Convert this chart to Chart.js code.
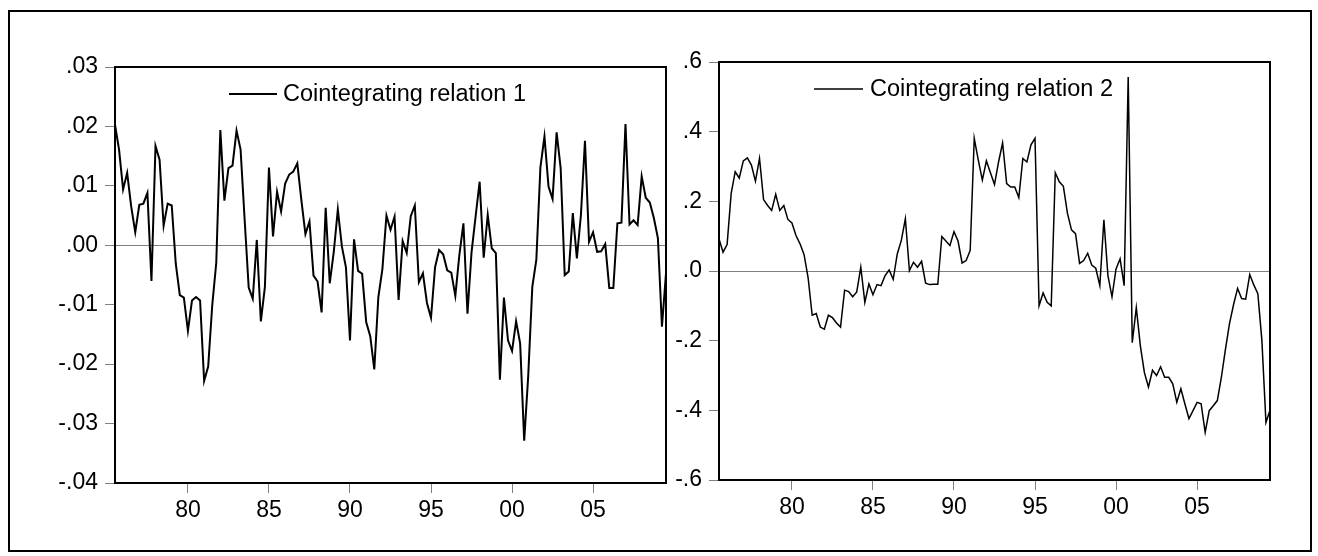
<!DOCTYPE html>
<html>
<head>
<meta charset="utf-8">
<title>Cointegrating relations</title>
<script src="https://cdn.jsdelivr.net/npm/chart.js@4.4.1/dist/chart.umd.min.js"></script>
<style>
    html, body { margin: 0; padding: 0; background: #fff; }
    body { width: 1318px; height: 556px; position: relative; overflow: hidden; }
    .frame { position: absolute; left: 8px; top: 10px; width: 1304px; height: 542px; border: 2px solid #000; box-sizing: border-box; }
    canvas { position: absolute; top: 0; }
    #chart1 { left: 0; }
    #chart2 { left: 660px; }
</style>
</head>
<body>
<div class="frame"></div>
<canvas id="chart1" width="680" height="556"></canvas>
<canvas id="chart2" width="658" height="556"></canvas>
<script>
// Quarterly sample, first observation 1975Q3
const startYear = 1975.5;

// Cointegrating relation 1 (quarterly, 1975Q3 - 2009Q3)
const rel1 = [
    0.0203, 0.0161, 0.0094, 0.0122, 0.0065, 0.0022, 0.0068, 0.0070, 0.0088, -0.0060,
    0.0167, 0.0144, 0.0033, 0.0070, 0.0067, -0.0031, -0.0084, -0.0088, -0.0144, -0.0093,
    -0.0087, -0.0093, -0.0228, -0.0204, -0.0101, -0.0029, 0.0194, 0.0075, 0.0130, 0.0134,
    0.0193, 0.0161, 0.0043, -0.0071, -0.0090, 0.0009, -0.0128, -0.0070, 0.0131, 0.0015,
    0.0090, 0.0057, 0.0104, 0.0119, 0.0124, 0.0138, 0.0076, 0.0019, 0.0040, -0.0051,
    -0.0061, -0.0113, 0.0063, -0.0064, -0.0011, 0.0060, -0.0002, -0.0037, -0.0160, 0.0010,
    -0.0043, -0.0048, -0.0129, -0.0153, -0.0209, -0.0087, -0.0040, 0.0050, 0.0026, 0.0048,
    -0.0092, 0.0007, -0.0013, 0.0049, 0.0067, -0.0062, -0.0047, -0.0097, -0.0122, -0.0037,
    -0.0008, -0.0015, -0.0042, -0.0046, -0.0085, -0.0016, 0.0037, -0.0115, -0.0012, 0.0048,
    0.0107, -0.0021, 0.0051, -0.0005, -0.0013, -0.0226, -0.0088, -0.0160, -0.0178, -0.0128,
    -0.0165, -0.0329, -0.0219, -0.0070, -0.0024, 0.0131, 0.0183, 0.0099, 0.0078, 0.0190,
    0.0130, -0.0050, -0.0044, 0.0054, -0.0022, 0.0051, 0.0176, 0.0006, 0.0022, -0.0011,
    -0.0010, 0.0002, -0.0072, -0.0072, 0.0037, 0.0038, 0.0204, 0.0035, 0.0042, 0.0034,
    0.0116, 0.0080, 0.0072, 0.0046, 0.0012, -0.0137, -0.0047
];

// Cointegrating relation 2 (same sample)
const rel2 = [
    0.092, 0.054, 0.076, 0.222, 0.285, 0.267, 0.316, 0.325, 0.304, 0.258,
    0.323, 0.205, 0.188, 0.174, 0.220, 0.174, 0.188, 0.148, 0.138, 0.102,
    0.078, 0.047, -0.020, -0.127, -0.122, -0.161, -0.167, -0.127, -0.134, -0.149,
    -0.161, -0.055, -0.059, -0.074, -0.060, 0.011, -0.090, -0.037, -0.068, -0.039,
    -0.042, -0.013, 0.003, -0.024, 0.049, 0.088, 0.150, 0.001, 0.025, 0.011,
    0.028, -0.035, -0.039, -0.038, -0.038, 0.099, 0.086, 0.073, 0.113, 0.086,
    0.023, 0.030, 0.059, 0.381, 0.318, 0.261, 0.316, 0.282, 0.248, 0.313,
    0.368, 0.251, 0.241, 0.241, 0.211, 0.323, 0.313, 0.362, 0.381, -0.100,
    -0.063, -0.090, -0.100, 0.282, 0.256, 0.243, 0.166, 0.118, 0.107, 0.022,
    0.030, 0.051, 0.017, 0.008, -0.042, 0.147, -0.013, -0.074, 0.006, 0.035,
    -0.042, 0.557, -0.206, -0.105, -0.215, -0.292, -0.333, -0.285, -0.300, -0.275,
    -0.305, -0.305, -0.324, -0.377, -0.338, -0.382, -0.424, -0.401, -0.377, -0.381,
    -0.463, -0.401, -0.387, -0.372, -0.305, -0.225, -0.151, -0.097, -0.050, -0.079,
    -0.081, -0.010, -0.040, -0.065, -0.200, -0.435, -0.400
];

// Axis ticks
const xTickYears = [1980, 1985, 1990, 1995, 2000, 2005];
const xTickLabels = ['80', '85', '90', '95', '00', '05'];
const y1Ticks = [-0.04, -0.03, -0.02, -0.01, 0, 0.01, 0.02, 0.03];
const y1TickLabels = ['-.04', '-.03', '-.02', '-.01', '.00', '.01', '.02', '.03'];
const y2Ticks = [-0.6, -0.4, -0.2, 0, 0.2, 0.4, 0.6];
const y2TickLabels = ['-.6', '-.4', '-.2', '.0', '.2', '.4', '.6'];

const FONT = "'Liberation Sans', Arial, sans-serif";
Chart.defaults.font.family = FONT;
Chart.defaults.font.size = 23;
Chart.defaults.color = '#000';

const toPoints = (values) => values.map((v, i) => ({ x: startYear + i * 0.25, y: v }));

// Box round the plot area + legend inside it (EViews style)
const framePlugin = {
    id: 'evFrame',
    afterDraw(chart, args, opts) {
        const { ctx, chartArea: a } = chart;
        ctx.save();
        ctx.strokeStyle = '#000';
        ctx.lineWidth = 2;
        ctx.strokeRect(a.left, a.top, a.right - a.left, a.bottom - a.top);

        const ds = chart.data.datasets[0];
        const y = a.top + opts.dy;
        ctx.lineWidth = ds.borderWidth;
        ctx.beginPath();
        ctx.moveTo(a.left + opts.lineFrom, y);
        ctx.lineTo(a.left + opts.lineTo, y);
        ctx.stroke();

        ctx.fillStyle = '#000';
        ctx.font = `23.5px ${FONT}`;
        ctx.textBaseline = 'middle';
        ctx.textAlign = 'left';
        ctx.fillText(ds.label, a.left + opts.textX, y + 1);
        ctx.restore();
    }
};

const makeChart = (canvasId, label, values, lineWidth, yTicks, yLabels, box) => {
    const [min, max] = [yTicks[0], yTicks[yTicks.length - 1]];
    return new Chart(document.getElementById(canvasId), {
        type: 'line',
        data: {
            datasets: [{
                label: label,
                data: toPoints(values),
                borderColor: '#000',
                borderWidth: lineWidth,
                pointRadius: 0,
                tension: 0,
                fill: false
            }]
        },
        options: {
            responsive: false,
            animation: false,
            events: [],
            layout: { padding: { left: 0, top: box.top, right: box.right, bottom: 0 } },
            plugins: {
                legend: { display: false },
                tooltip: { enabled: false },
                evFrame: box.legend
            },
            scales: {
                x: {
                    type: 'linear',
                    min: startYear,
                    max: startYear + (values.length - 1) * 0.25,
                    afterBuildTicks: (scale) => { scale.ticks = xTickYears.map(v => ({ value: v })); },
                    afterFit: (scale) => { scale.height = box.xHeight; },
                    ticks: {
                        autoSkip: false,
                        maxRotation: 0,
                        padding: 4,
                        callback: (value, index) => xTickLabels[index]
                    },
                    grid: { drawOnChartArea: false, tickColor: '#808080', tickLength: 10, lineWidth: 1 },
                    border: { display: true, color: '#000', width: 2 }
                },
                y: {
                    type: 'linear',
                    min: min,
                    max: max,
                    afterBuildTicks: (scale) => { scale.ticks = yTicks.map(v => ({ value: v })); },
                    afterFit: (scale) => { scale.width = box.yWidth; },
                    ticks: {
                        autoSkip: false,
                        padding: 7,
                        callback: (value, index) => yLabels[index]
                    },
                    grid: {
                        color: (ctx) => (ctx.tick && ctx.tick.value === 0 ? '#808080' : 'rgba(0,0,0,0)'),
                        tickColor: '#808080',
                        tickLength: 10,
                        lineWidth: 1
                    },
                    border: { display: true, color: '#000', width: 2 }
                }
            }
        },
        plugins: [framePlugin]
    });
};

document.addEventListener('DOMContentLoaded', () => {
    makeChart('chart1', 'Cointegrating relation 1', rel1, 2, y1Ticks, y1TickLabels, {
        top: 67, right: 14, yWidth: 115, xHeight: 73,
        legend: { dy: 27, lineFrom: 114, lineTo: 162, textX: 168 }
    });
    makeChart('chart2', 'Cointegrating relation 2', rel2, 1.5, y2Ticks, y2TickLabels, {
        top: 62, right: 48, yWidth: 59, xHeight: 76,
        legend: { dy: 27, lineFrom: 95, lineTo: 144, textX: 151 }
    });
});
</script>
</body>
</html>
